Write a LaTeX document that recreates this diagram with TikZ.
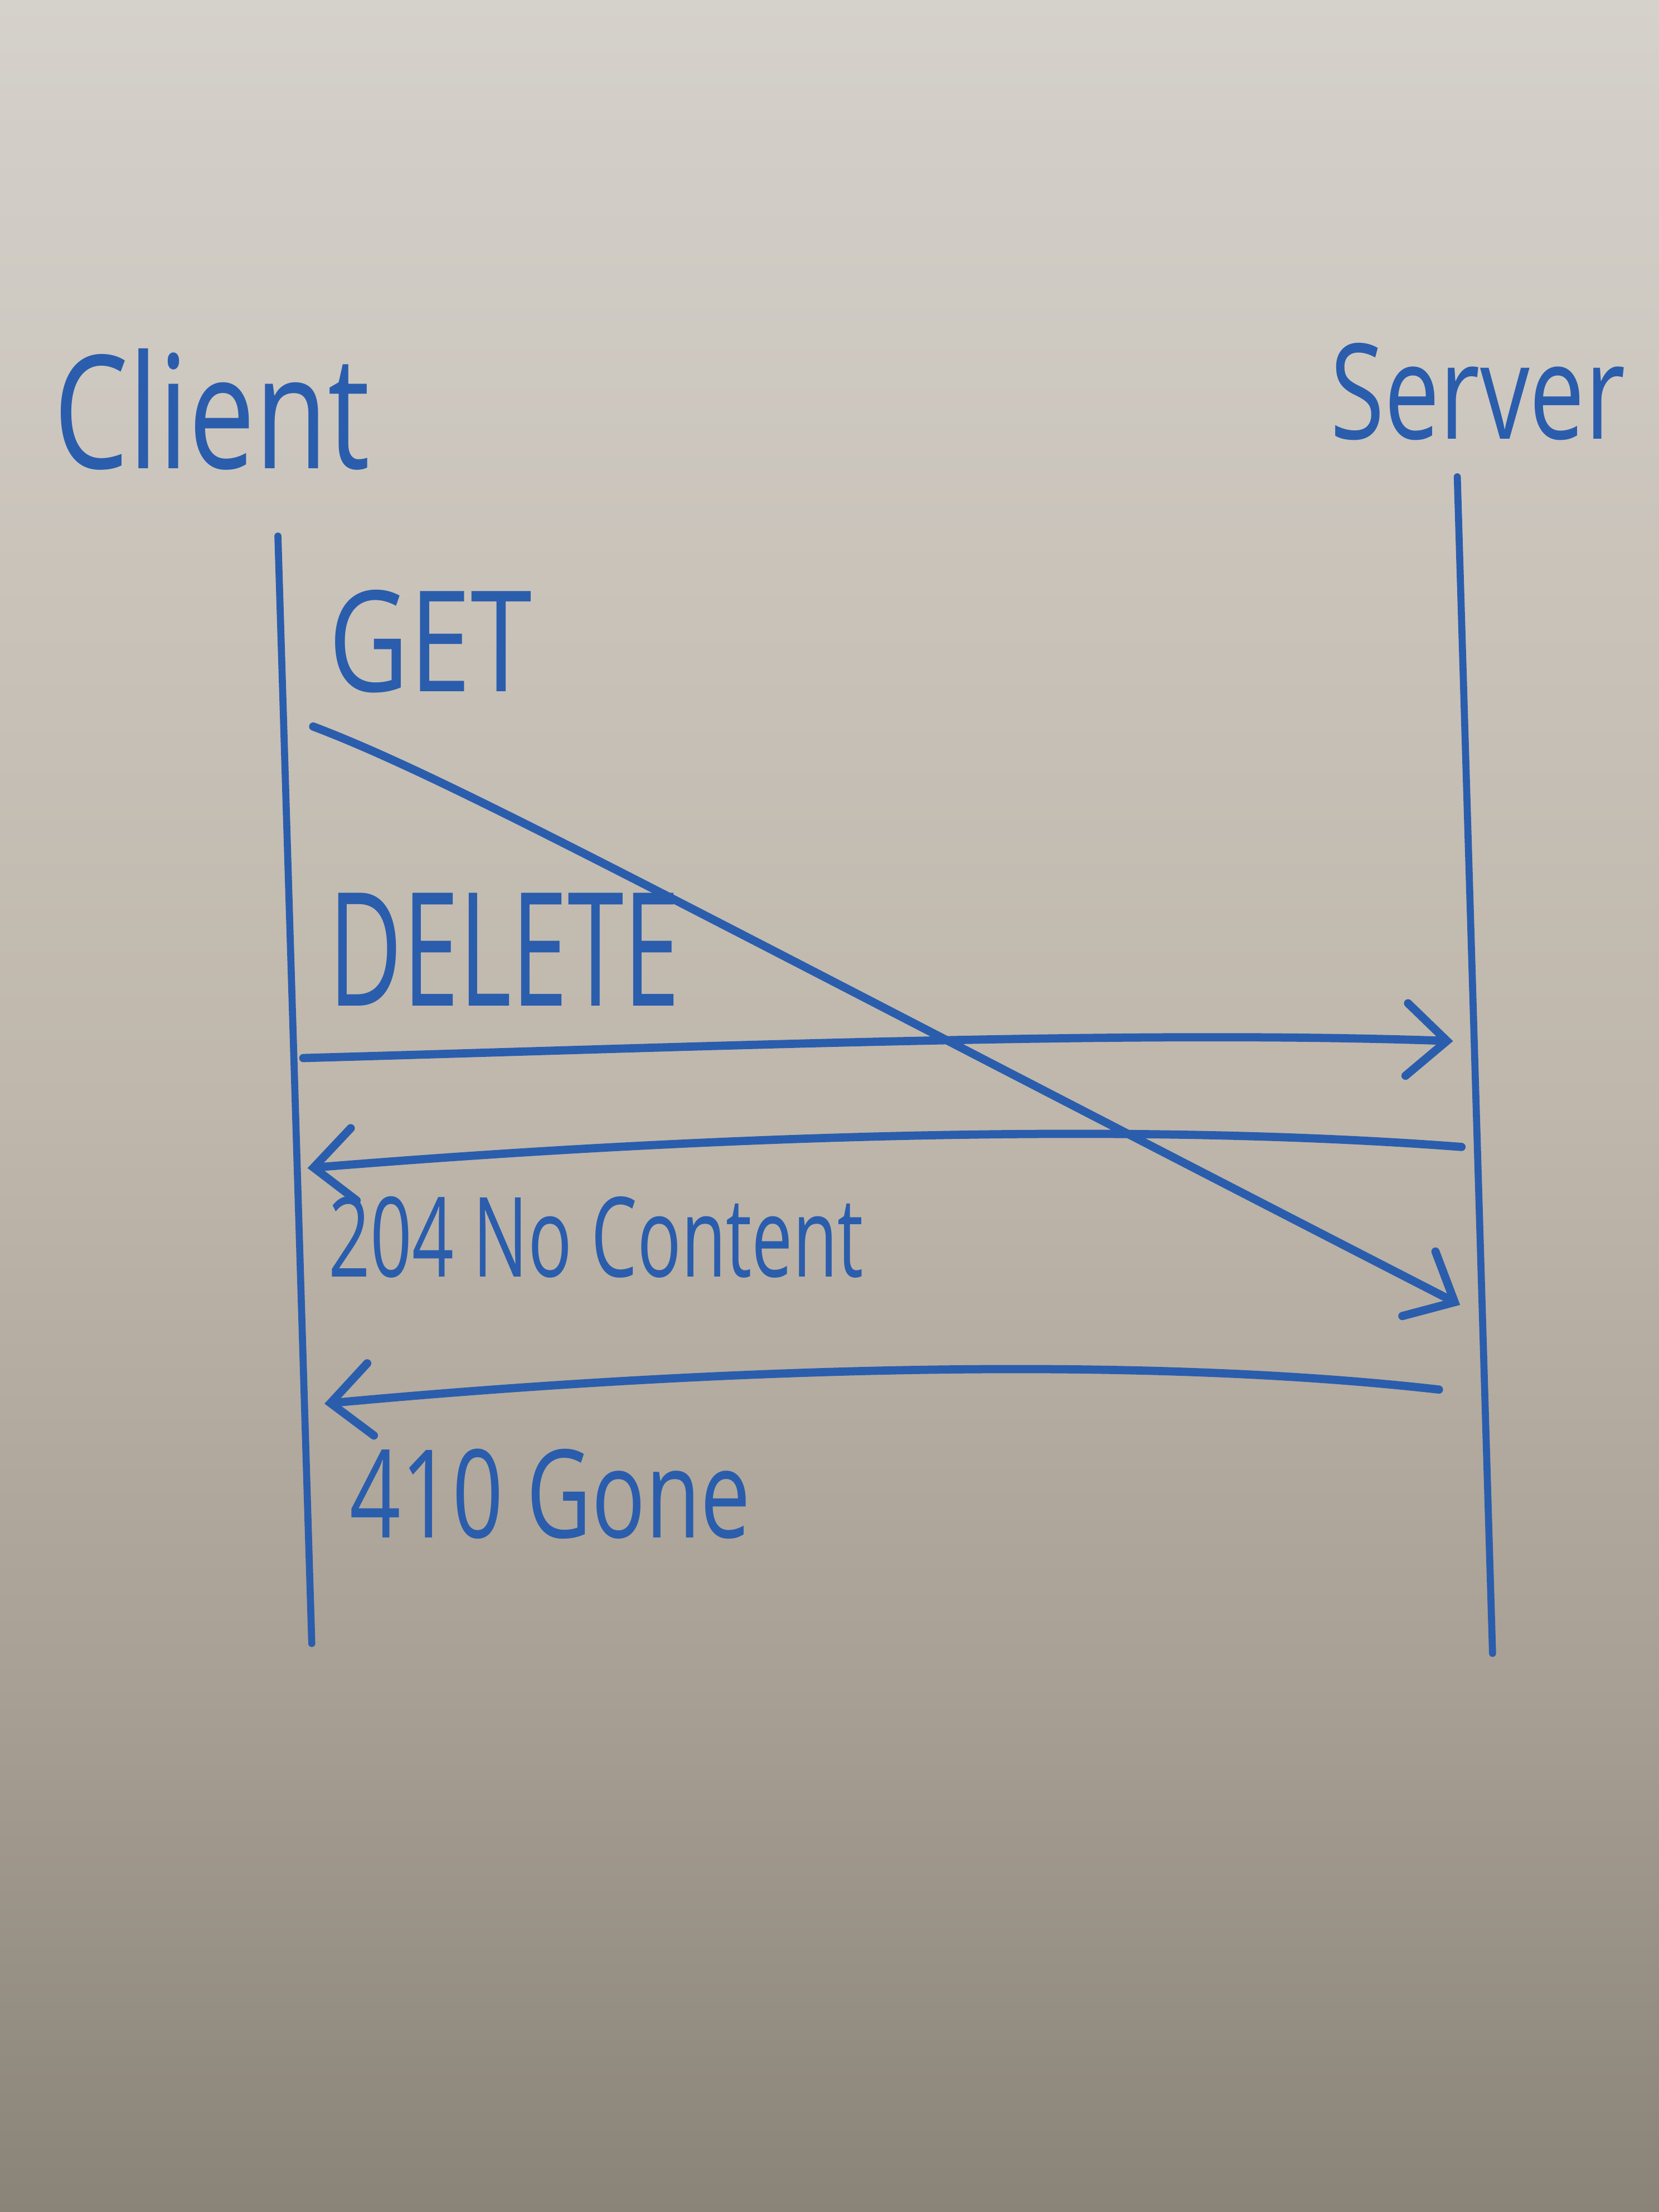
\documentclass[tikz,border=0pt]{standalone}
\usepackage{fontspec}
\setmainfont{Open Sans}
\usetikzlibrary{arrows.meta}
\definecolor{ink}{HTML}{2B5DAD}
\definecolor{bfive}{HTML}{D5D1CB}
\definecolor{bfour}{HTML}{C9C3BA}
\definecolor{bthree}{HTML}{BFB7AB}
\definecolor{btwo}{HTML}{A8A094}
\definecolor{bone}{HTML}{8A8377}
\pgfdeclareverticalshading{board}{100bp}{color(0bp)=(bone); color(25bp)=(bone); color(37bp)=(btwo); color(50bp)=(bthree); color(62bp)=(bfour); color(75bp)=(bfive); color(100bp)=(bfive)}
\begin{document}
\begin{tikzpicture}[x=0.025306cm,y=-0.025306cm,
  lbl/.style={inner sep=0pt, outer sep=0pt, anchor=base west, text=ink},
  life/.style={draw=ink, line width=3.6pt, line cap=round},
  msg/.style={draw=ink, line width=4.2pt, line cap=round,
    -{Straight Barb[length=0.72cm,width=1.3cm,line cap=round]}}]
\useasboundingbox (0,0) rectangle (1176,1568);
\shade[shading=board] (0,0) rectangle (1176,1568);

% titles
\node[lbl] (client) at (38,332) {\resizebox{5.669cm}{2.151cm}{Client}};
\node[lbl] (server) at (943,311) {\resizebox{5.289cm}{1.721cm}{Server}};

% lifelines
\coordinate (ctop) at (197,380);
\coordinate (cbot) at (221,1165);
\coordinate (stop) at (1033,338);
\coordinate (sbot) at (1058,1172);
\draw[life] (ctop) -- (cbot);
\draw[life] (stop) -- (sbot);

% labels
\node[lbl] (get) at (233,490) {\resizebox{3.644cm}{1.822cm}{GET}};
\node[lbl] (delete) at (233,713) {\resizebox{6.301cm}{2.024cm}{DELETE}};
\node[lbl] (nocontent) at (233,905) {\resizebox{9.591cm}{1.442cm}{204 No Content}};
\node[lbl] (gone) at (248,1090) {\resizebox{7.187cm}{1.594cm}{410 Gone}};

% message endpoints
\coordinate (getA) at (222,515);
\coordinate (getB) at (1035,925);
\coordinate (delA) at (215,750);
\coordinate (delB) at (1030,738);
\coordinate (okA) at (1036,813);
\coordinate (okB) at (218,828);
\coordinate (goneA) at (1020,985);
\coordinate (goneB) at (230,995);

% messages
\draw[msg] (getA) .. controls (320,552) and (480,640) .. (getB);
\draw[msg] (delA) .. controls (500,742) and (800,730) .. (delB);
\draw[msg] (okA) .. controls (800,795) and (500,805) .. (okB);
\draw[msg] (goneA) .. controls (800,960) and (500,970) .. (goneB);
\end{tikzpicture}
\end{document}
